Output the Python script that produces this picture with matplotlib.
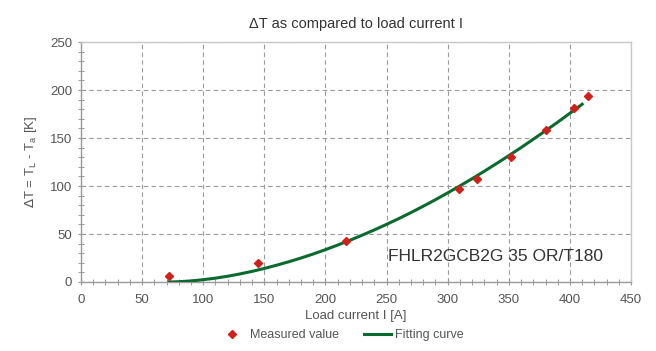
import matplotlib.pyplot as plt
from matplotlib.ticker import MultipleLocator

plt.rcParams['font.family'] = ['Liberation Sans', 'DejaVu Sans']

# measured points
meas_i = [72, 145, 217, 309, 324, 352, 380, 403, 415]
meas_dt = [6, 20, 43, 97, 107, 130, 158, 181, 194]

fit_i = [72, 80, 90, 100, 110, 120, 130, 140, 150, 160, 170, 180, 190, 200,
         210, 220, 230, 240, 250, 260, 270, 280, 290, 300, 310, 320, 330,
         340, 350, 360, 370, 380, 390, 400, 410]
fit_dt = [0, 0.3, 1.1, 2.4, 4.0, 6.0, 8.4, 11.1, 14.1, 17.5, 21.1, 25.0,
          29.2, 33.7, 38.5, 43.5, 48.8, 54.3, 60.1, 66.1, 72.4, 79.0, 85.8,
          92.9, 100.2, 107.7, 115.5, 123.5, 131.7, 140.1, 148.8, 157.6,
          166.6, 175.9, 185.3]

label_col = '#555555'
spine_col = '#9a9a9a'

fig = plt.figure(figsize=(6.56, 3.51), dpi=100, facecolor='white')
ax = fig.add_axes([0.1235, 0.1966, 0.8385, 0.6834])

ax.plot(fit_i, fit_dt, color='#0b6b2e', lw=2.2, zorder=3, label='Fitting curve')
ax.plot(meas_i, meas_dt, linestyle='none', marker='D', ms=4.5, color='#d0201a',
        zorder=4, label='Measured value')

ax.set_xlim(0, 450)
ax.set_ylim(0, 250)
ax.xaxis.set_major_locator(MultipleLocator(50))
ax.xaxis.set_minor_locator(MultipleLocator(10))
ax.yaxis.set_major_locator(MultipleLocator(50))
ax.yaxis.set_minor_locator(MultipleLocator(10))
ax.tick_params(which='both', direction='inout', color=spine_col, labelcolor=label_col,
               labelsize=9.5)
ax.tick_params(which='major', length=5, width=0.8)
ax.tick_params(which='minor', length=4, width=0.7)
ax.tick_params(axis='x', pad=6)
ax.tick_params(axis='y', pad=4)

ax.grid(True, which='major', linestyle=(0, (4, 3)), color='#9a9a9a', lw=0.8)
for s in ax.spines.values():
    s.set_color('#c8c8c8')
    s.set_linewidth(1.0)
ax.spines['left'].set_color(spine_col)
ax.spines['bottom'].set_color(spine_col)

ax.set_title('\u0394T as compared to load current I', fontsize=10.5, color='#333333', pad=10)
ax.set_xlabel('Load current I [A]', fontsize=9.5, color=label_col, labelpad=3)
ax.set_ylabel(r'$\Delta$T = T$_\mathregular{L}$ - T$_\mathregular{a}$ [K]', fontsize=9.5,
              color=label_col, labelpad=8)

ax.text(251, 27, 'FHLR2GCB2G 35 OR/T180', fontsize=12.5, color='#333333',
        va='center', zorder=5)

handles, labels = ax.get_legend_handles_labels()
fig.legend(handles[::-1], labels[::-1], loc='center', bbox_to_anchor=(0.52, 0.045),
           ncol=2, frameon=False, fontsize=9, labelcolor=label_col,
           handlelength=2.2, columnspacing=2.0, handletextpad=0.3)

fig.savefig('out.png', dpi=100)
